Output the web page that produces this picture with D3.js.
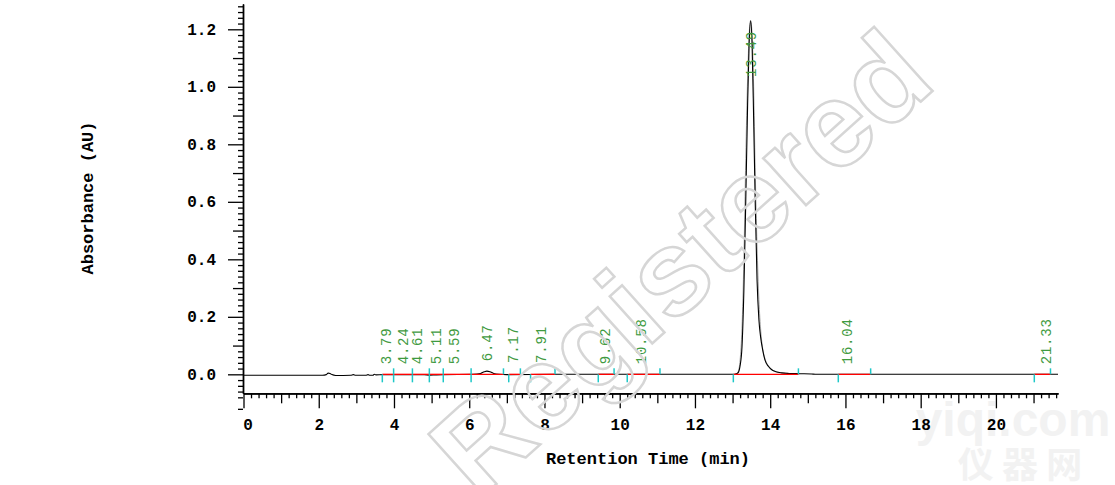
<!DOCTYPE html>
<html><head><meta charset="utf-8">
<script src="https://cdn.jsdelivr.net/npm/d3@7"></script>
<style>body{margin:0;background:#fff}svg{display:block}</style>
</head><body>
<svg id="c" width="1115" height="485"></svg>
<script>
// ---- data ----
const traceTime = [0, 2.10, 2.20, 2.25, 2.30, 2.35, 2.45, 2.85, 2.92, 2.98, 3.25, 3.31, 3.36, 3.44, 3.48, 3.52, 3.70, 4.20, 4.80, 4.95, 5.10, 5.30, 6.10, 6.30, 6.40, 6.47, 6.55, 6.65, 6.80, 7.00, 8.30, 9.50, 10.60, 12.90,
  13.00, 13.10, 13.15, 13.20, 13.25, 13.30, 13.35, 13.40, 13.44, 13.48, 13.52, 13.56, 13.60, 13.65, 13.70, 13.75, 13.80, 13.86, 13.95, 14.05, 14.15, 14.30, 14.50, 14.80, 15.10, 15.20, 19.00, 21.65];
const traceAbs = [-0.003, -0.003, -0.001, 0.004, 0.003, -0.001, -0.004, -0.003, -0.001, -0.003, -0.003, -0.001, -0.003, -0.003, 0.000, -0.002, -0.001, -0.001, -0.001, -0.003, -0.002, -0.001, 0.000, 0.003, 0.009, 0.011, 0.009, 0.003, 0.000, -0.001, 0.000, 0.000, 0.000, 0.000,
  0.000, 0.002, 0.006, 0.030, 0.095, 0.290, 0.600, 0.940, 1.150, 1.230, 1.140, 0.890, 0.610, 0.330, 0.190, 0.125, 0.085, 0.050, 0.028, 0.015, 0.009, 0.005, 0.003, 0.002, 0.001, 0.000, 0.000, 0.000];
const overlayTime = [13.05, 13.10, 13.15, 13.20, 13.25, 13.30, 13.35, 13.40, 13.44, 13.48, 13.52, 13.56, 13.60, 13.65, 13.70, 13.75, 13.80, 13.86, 13.95, 14.05, 14.20, 14.40];
const overlayAbs = [0.000, 0.002, 0.010, 0.050, 0.160, 0.400, 0.750, 1.030, 1.180, 1.230, 1.180, 1.000, 0.720, 0.450, 0.260, 0.150, 0.090, 0.055, 0.030, 0.016, 0.008, 0.004];

const peakLabels = ["3.79", "4.24", "4.61", "5.11", "5.59", "6.47", "7.17", "7.91", "9.62", "10.58", "13.49", "16.04", "21.33"];
const peakRT     = [3.79, 4.24, 4.61, 5.11, 5.59, 6.47, 7.17, 7.91, 9.62, 10.58, 13.49, 16.04, 21.33];
const peakHeight = [0, 0, 0, 0, 0, 0.011, 0.005, 0.005, 0, 0, 1.23, 0, 0];
const peakStart  = [3.69, 3.99, 4.49, 4.94, 5.31, 6.05, 7.05, 7.63, 9.43, 10.20, 13.02, 15.81, 21.02];
const peakEnd    = [3.99, 4.49, 4.94, 5.31, 6.05, 6.91, 7.36, 8.28, 9.85, 11.07, 14.75, 16.67, 21.45];

const xMajorTicks = [0, 2, 4, 6, 8, 10, 12, 14, 16, 18, 20];
const yMajorTicks = [0.0, 0.2, 0.4, 0.6, 0.8, 1.0, 1.2];

// ---- layout ----
const svg = d3.select("#c");
const x = d3.scaleLinear().domain([0, 21.65]).range([243.5, 1058]);
const y = d3.scaleLinear().domain([-0.066, 1.288]).range([393.3, 4]);
const MONO = "'Liberation Mono','Courier New',monospace";

// background watermark (site logo)
svg.append("text").attr("x", 1013).attr("y", 436).attr("text-anchor", "middle")
  .attr("font-family", "'Liberation Sans',Arial,sans-serif").attr("font-weight", "bold").attr("font-size", 48)
  .attr("fill", "#f2f2f2").text("yiqi.com");
svg.append("text").attr("x", 1020).attr("y", 478).attr("text-anchor", "middle")
  .attr("font-family", "'Noto Sans CJK SC',sans-serif").attr("font-weight", "bold").attr("font-size", 36)
  .attr("fill", "#f2f2f2").text("仪 器 网");

// minor / medium ticks
const xMinor = d3.range(0, 21.65, 0.2).map(v => +v.toFixed(1)).filter(v => Math.abs(v - Math.round(v)) > 1e-6);
const xMedium = d3.range(1, 22, 2).filter(v => v <= 21.65);
const yMinor = d3.range(-6, 65, 1).map(v => +(v * 0.02).toFixed(2)).filter(v => Math.abs(v * 10 - Math.round(v * 10)) > 1e-6 && v <= 1.288);
const yMedium = d3.range(0, 1.3, 0.2).map(v => +(v + 0.1).toFixed(1)).filter(v => v <= 1.288);

function drawAxis(axis, g) {
  g.call(axis);
  g.selectAll("line").attr("stroke", "#000").attr("stroke-width", 1.3);
  g.selectAll("path").attr("stroke", "#000").attr("stroke-width", 1.3);
}

// x axis
const gx = svg.append("g").attr("transform", "translate(0,393.3)");
drawAxis(d3.axisBottom(x).tickValues(xMinor).tickSize(5).tickSizeOuter(0).tickFormat(""), gx.append("g"));
drawAxis(d3.axisBottom(x).tickValues(xMedium).tickSize(10).tickSizeOuter(0).tickFormat(""), gx.append("g"));
const gxMaj = gx.append("g");
drawAxis(d3.axisBottom(x).tickValues(xMajorTicks).tickSize(15).tickSizeOuter(0).tickPadding(10).tickFormat(d3.format("d")), gxMaj);
gxMaj.selectAll("text").attr("font-family", MONO).attr("font-weight", "bold").attr("font-size", 16).attr("fill", "#000")
  .attr("dx", d => d === 0 ? 4 : 0);

// y axis
const gy = svg.append("g").attr("transform", "translate(243,0)");
drawAxis(d3.axisLeft(y).tickValues(yMinor).tickSize(5).tickSizeOuter(0).tickFormat(""), gy.append("g"));
drawAxis(d3.axisLeft(y).tickValues(yMedium).tickSize(10).tickSizeOuter(0).tickFormat(""), gy.append("g"));
const gyMaj = gy.append("g");
drawAxis(d3.axisLeft(y).tickValues(yMajorTicks).tickSize(15).tickSizeOuter(0).tickPadding(12).tickFormat(d3.format(".1f")), gyMaj);
gyMaj.selectAll("text").attr("font-family", MONO).attr("font-weight", "bold").attr("font-size", 16).attr("fill", "#000");

// axis titles
svg.append("text").attr("x", 648).attr("y", 464).attr("text-anchor", "middle")
  .attr("font-family", MONO).attr("font-weight", "bold").attr("font-size", 17).text("Retention Time (min)");
svg.append("text").attr("transform", "translate(93,198) rotate(-90)").attr("text-anchor", "middle")
  .attr("font-family", MONO).attr("font-weight", "bold").attr("font-size", 17).text("Absorbance (AU)");

// traces
const line = d3.line().x(d => x(d[0])).y(d => y(d[1])).curve(d3.curveMonotoneX);
svg.append("path").datum(d3.zip(overlayTime, overlayAbs)).attr("d", line)
  .attr("fill", "none").attr("stroke", "#a8a8a8").attr("stroke-width", 1);
svg.append("path").datum(d3.zip(traceTime, traceAbs)).attr("d", line)
  .attr("fill", "none").attr("stroke", "#000").attr("stroke-width", 1.1);

// integration baselines (red), drawn over the trace
const peaks = peakRT.map((rt, i) => ({rt, label: peakLabels[i], h: peakHeight[i], s: peakStart[i], e: peakEnd[i]}));
svg.append("g").selectAll("line").data(peaks).join("line")
  .attr("x1", d => x(d.s)).attr("x2", d => x(d.e)).attr("y1", y(0)).attr("y2", y(0))
  .attr("stroke", "#ff0000").attr("stroke-width", 1.3);

// peak start / end markers (cyan)
const mk = svg.append("g").attr("stroke", "#1ec8c8").attr("stroke-width", 1.5);
mk.selectAll("line.s").data(peaks).join("line").attr("class", "s")
  .attr("x1", d => x(d.s)).attr("x2", d => x(d.s)).attr("y1", y(0)).attr("y2", y(0) + 8);
mk.selectAll("line.e").data(peaks).join("line").attr("class", "e")
  .attr("x1", d => x(d.e)).attr("x2", d => x(d.e)).attr("y1", y(0)).attr("y2", y(0) - 6);

// peak labels (green, rotated)
const lbl = svg.append("g").selectAll("text").data(peaks).join("text")
  .attr("font-family", MONO).attr("font-size", 14).attr("letter-spacing", 0.8).attr("fill", "#3f9a3f")
  .attr("dy", "0.35em").text(d => d.label);
lbl.each(function(d) {
  const len = this.getComputedTextLength();
  const y0 = Math.max(y(d.h) - 10, 31 + len);
  d3.select(this).attr("transform", `translate(${x(d.rt)},${y0}) rotate(-90)`);
});

// overlay watermark
svg.append("text").attr("transform", "translate(680,262) rotate(-42)").attr("text-anchor", "middle")
  .attr("dominant-baseline", "central")
  .attr("font-family", "'Liberation Sans',Arial,sans-serif").attr("font-weight", "bold").attr("font-size", 120)
  .attr("fill", "none").attr("stroke", "#d6d6d6").attr("stroke-width", 2.5).text("Registered");
</script>
</body></html>
